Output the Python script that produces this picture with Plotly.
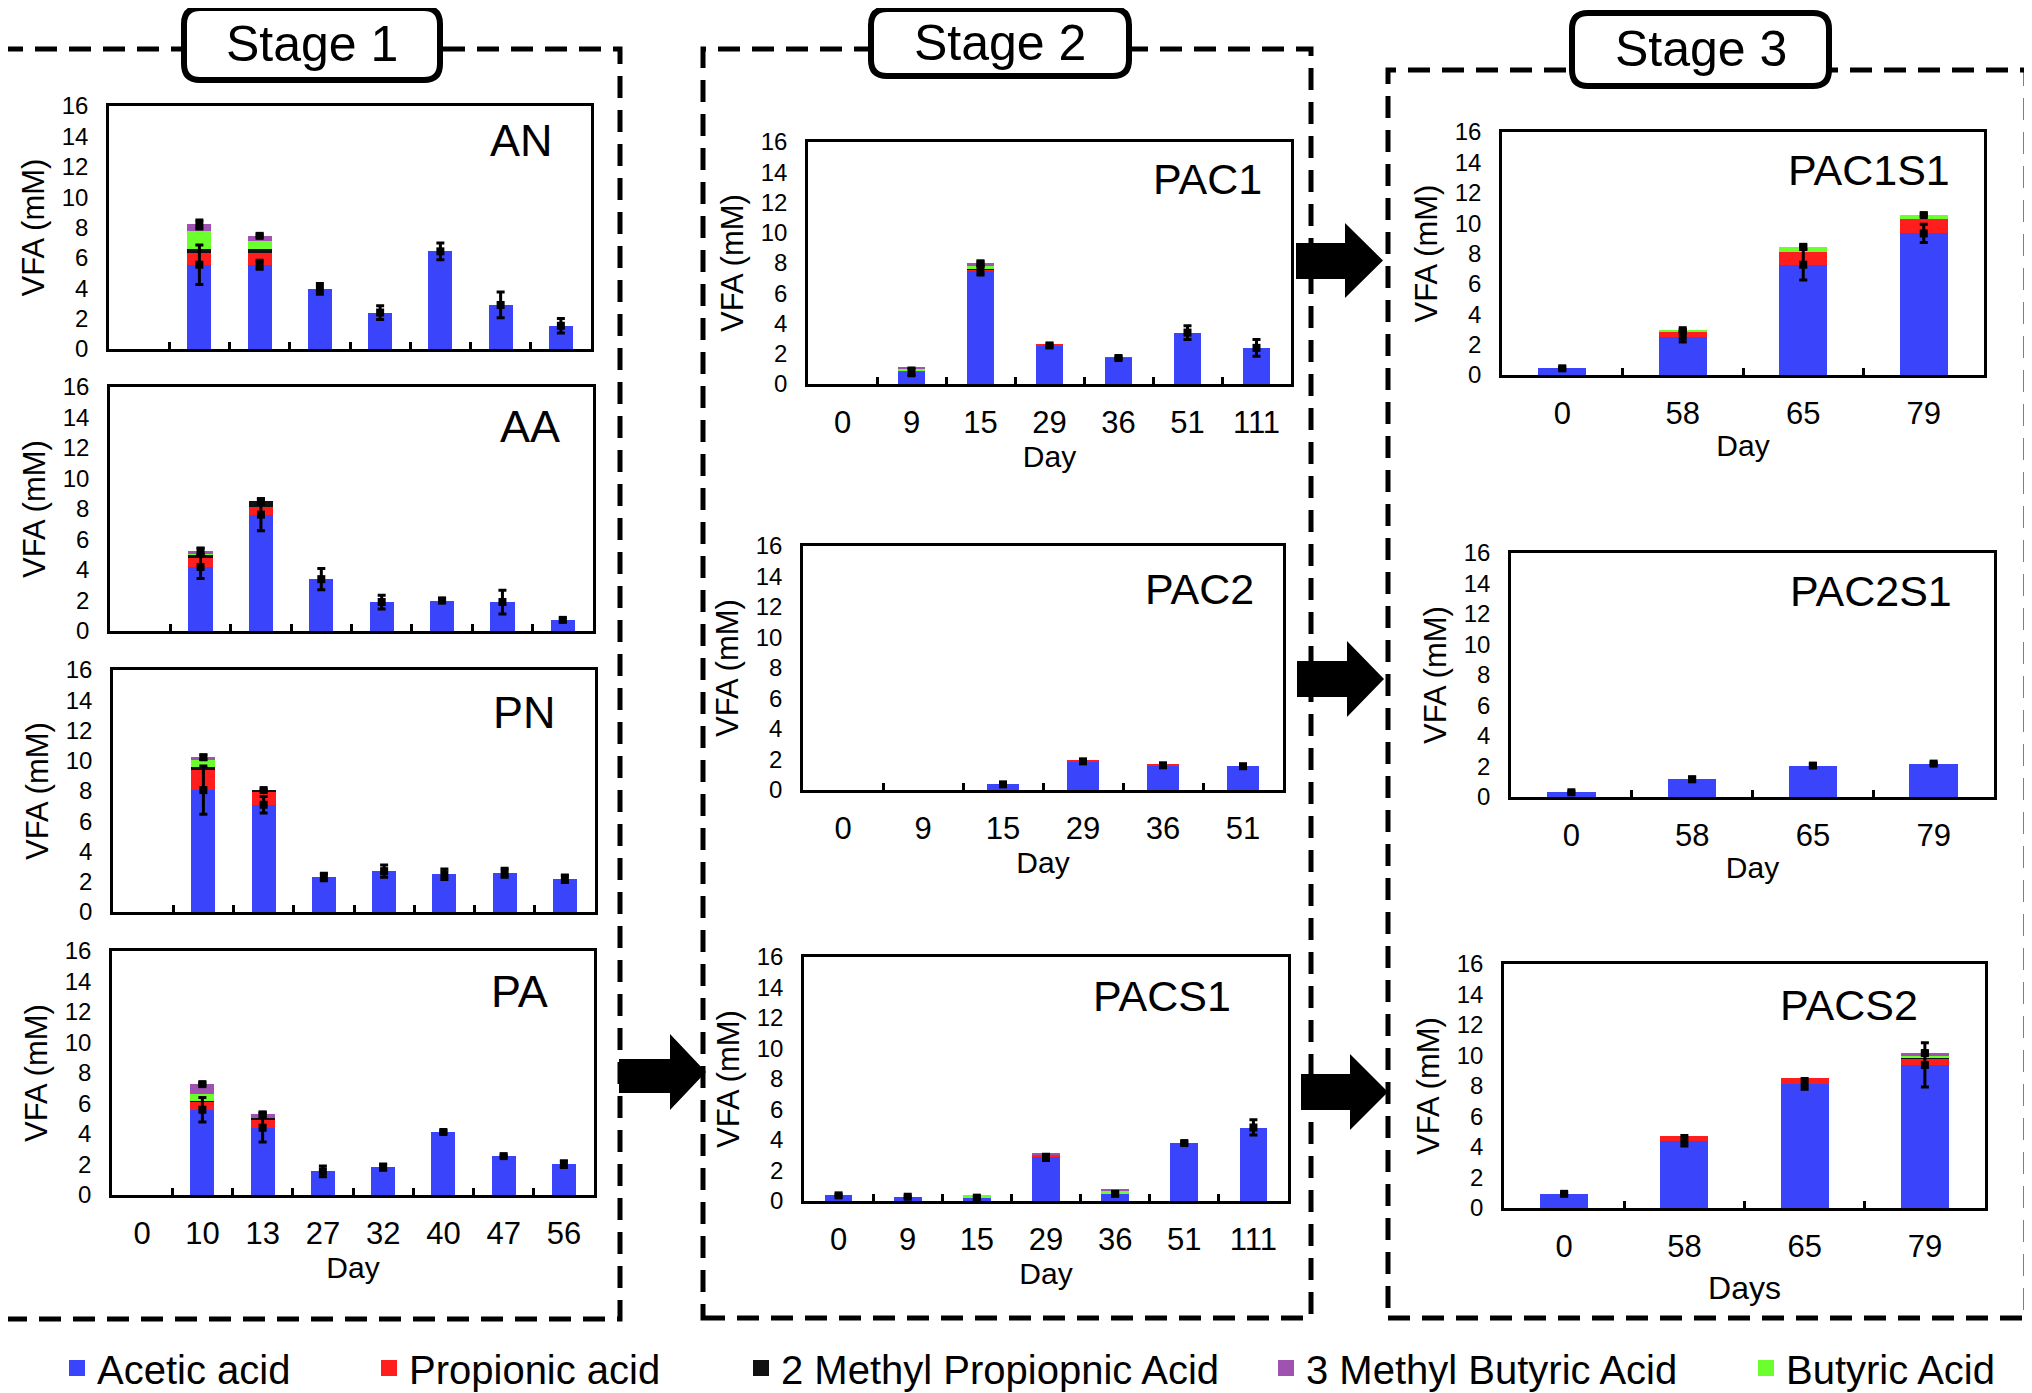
import numpy as np
import plotly.graph_objects as go

# the page body keeps an 8px margin, so every position is pulled back by it
OFF = 8
W, H = 2032, 1393
FONT = "Liberation Sans, Arial, sans-serif"

ACIDS = ["Acetic acid", "Propionic acid", "2 Methyl Propiopnic Acid",
         "3 Methyl Butyric Acid", "Butyric Acid"]
ACID_COLORS = {
    "Acetic acid": "#3a44fb",
    "Propionic acid": "#ff1e1e",
    "2 Methyl Propiopnic Acid": "#111111",
    "3 Methyl Butyric Acid": "#a052b0",
    "Butyric Acid": "#6cff2e",
}
# order the segments are stacked in (bottom -> top)
STACK_ORDER = ["Acetic acid", "Propionic acid", "2 Methyl Propiopnic Acid",
               "Butyric Acid", "3 Methyl Butyric Acid"]

STAGE1_DAYS = ["0", "10", "13", "27", "32", "40", "47", "56"]
STAGE2_DAYS = ["0", "9", "15", "29", "36", "51", "111"]
PAC2_DAYS = ["0", "9", "15", "29", "36", "51"]
STAGE3_DAYS = ["0", "58", "65", "79"]

# ---- Stage 1 ----
AN_ACETIC = [0, 5.55, 5.55, 3.96, 2.40, 6.43, 2.90, 1.53]
AN_PROPIONIC = [0, 0.75, 0.75, 0, 0, 0, 0, 0]
AN_METHYLPROP = [0, 0.30, 0.30, 0, 0, 0, 0, 0]
AN_BUTYRIC = [0, 1.15, 0.50, 0, 0, 0, 0, 0]
AN_METHYLBUT = [0, 0.45, 0.35, 0, 0, 0, 0, 0]
AN_ERR_ACETIC = [0, 1.30, 0.30, 0.35, 0.45, 0.55, 0.85, 0.48]
AN_ERR_TOTAL = [0, 0.30, 0.10, 0, 0, 0, 0, 0]

AA_ACETIC = [0, 4.20, 7.63, 3.40, 1.90, 2.00, 1.90, 0.73]
AA_PROPIONIC = [0, 0.60, 0.53, 0, 0, 0, 0, 0]
AA_METHYLPROP = [0, 0.20, 0.34, 0, 0, 0, 0, 0]
AA_BUTYRIC = [0, 0.05, 0, 0, 0, 0, 0, 0]
AA_METHYLBUT = [0, 0.20, 0, 0, 0, 0, 0, 0]
AA_ERR_ACETIC = [0, 0.75, 1.05, 0.70, 0.45, 0.15, 0.78, 0.10]
AA_ERR_TOTAL = [0, 0.20, 0.15, 0, 0, 0, 0, 0]

PN_ACETIC = [0, 8.06, 7.09, 2.32, 2.70, 2.50, 2.60, 2.20]
PN_PROPIONIC = [0, 1.35, 0.88, 0, 0, 0, 0, 0]
PN_METHYLPROP = [0, 0.20, 0.09, 0, 0, 0, 0, 0]
PN_BUTYRIC = [0, 0.44, 0, 0, 0, 0, 0, 0]
PN_METHYLBUT = [0, 0.18, 0, 0, 0, 0, 0, 0]
PN_ERR_ACETIC = [0, 1.60, 0.55, 0.25, 0.40, 0.35, 0.30, 0.25]
PN_ERR_TOTAL = [0, 0.15, 0.05, 0, 0, 0, 0, 0]

PA_ACETIC = [0, 5.59, 4.41, 1.55, 1.83, 4.13, 2.55, 2.02]
PA_PROPIONIC = [0, 0.53, 0.56, 0, 0, 0, 0, 0]
PA_METHYLPROP = [0, 0.06, 0.05, 0, 0, 0, 0, 0]
PA_BUTYRIC = [0, 0.47, 0, 0, 0, 0, 0, 0]
PA_METHYLBUT = [0, 0.62, 0.26, 0, 0, 0, 0, 0]
PA_ERR_ACETIC = [0, 0.80, 0.93, 0.35, 0.20, 0.10, 0.05, 0.22]
PA_ERR_TOTAL = [0, 0.10, 0.15, 0, 0, 0, 0, 0]

# ---- Stage 2 ----
PAC1_ACETIC = [0, 0.80, 7.50, 2.55, 1.72, 3.40, 2.39]
PAC1_PROPIONIC = [0, 0.05, 0.05, 0.12, 0.06, 0, 0]
PAC1_METHYLPROP = [0, 0, 0.08, 0, 0, 0, 0]
PAC1_BUTYRIC = [0, 0.15, 0.15, 0, 0, 0, 0]
PAC1_METHYLBUT = [0, 0.10, 0.20, 0, 0, 0, 0]
PAC1_ERR_ACETIC = [0, 0.25, 0.30, 0.10, 0.08, 0.45, 0.55]
PAC1_ERR_TOTAL = [0, 0, 0.10, 0, 0, 0, 0]

PAC2_ACETIC = [0, 0, 0.37, 1.88, 1.62, 1.56]
PAC2_PROPIONIC = [0, 0, 0, 0.10, 0.07, 0]
PAC2_METHYLPROP = [0, 0, 0, 0, 0, 0]
PAC2_BUTYRIC = [0, 0, 0, 0, 0, 0]
PAC2_METHYLBUT = [0, 0, 0, 0, 0, 0]
PAC2_ERR_ACETIC = [0, 0, 0.05, 0.12, 0.10, 0.10]
PAC2_ERR_TOTAL = [0, 0, 0, 0, 0, 0]

PACS1_ACETIC = [0.37, 0.28, 0.22, 2.86, 0.47, 3.80, 4.82]
PACS1_PROPIONIC = [0, 0, 0, 0.20, 0, 0, 0]
PACS1_METHYLPROP = [0, 0, 0, 0, 0, 0, 0]
PACS1_BUTYRIC = [0, 0, 0.18, 0, 0.20, 0, 0]
PACS1_METHYLBUT = [0, 0, 0, 0.05, 0.10, 0, 0]
PACS1_ERR_ACETIC = [0.05, 0.05, 0.08, 0.20, 0.10, 0.10, 0.50]
PACS1_ERR_TOTAL = [0, 0, 0, 0, 0, 0, 0]

# ---- Stage 3 ----
PAC1S1_ACETIC = [0.44, 2.53, 7.26, 9.32]
PAC1S1_PROPIONIC = [0, 0.32, 0.86, 0.97]
PAC1S1_METHYLPROP = [0, 0, 0, 0]
PAC1S1_BUTYRIC = [0, 0.10, 0.32, 0.24]
PAC1S1_METHYLBUT = [0, 0, 0, 0]
PAC1S1_ERR_ACETIC = [0.08, 0.35, 1.00, 0.60]
PAC1S1_ERR_TOTAL = [0, 0.05, 0.10, 0.10]

PAC2S1_ACETIC = [0.31, 1.16, 2.06, 2.19]
PAC2S1_PROPIONIC = [0, 0, 0, 0]
PAC2S1_METHYLPROP = [0, 0, 0, 0]
PAC2S1_BUTYRIC = [0, 0, 0, 0]
PAC2S1_METHYLBUT = [0, 0, 0, 0]
PAC2S1_ERR_ACETIC = [0.05, 0.15, 0.10, 0.08]
PAC2S1_ERR_TOTAL = [0, 0, 0, 0]

PACS2_ACETIC = [0.93, 4.41, 8.14, 9.38]
PACS2_PROPIONIC = [0, 0.30, 0.40, 0.40]
PACS2_METHYLPROP = [0, 0, 0, 0.03]
PACS2_BUTYRIC = [0, 0, 0, 0.18]
PACS2_METHYLBUT = [0, 0, 0, 0.17]
PACS2_ERR_ACETIC = [0.08, 0.35, 0.35, 1.45]
PACS2_ERR_TOTAL = [0, 0, 0, 0.10]

# name, days, stacks (stack order), acetic error, top error
PANELS = [
    ("AN", STAGE1_DAYS, [AN_ACETIC, AN_PROPIONIC, AN_METHYLPROP, AN_BUTYRIC, AN_METHYLBUT], AN_ERR_ACETIC, AN_ERR_TOTAL),
    ("AA", STAGE1_DAYS, [AA_ACETIC, AA_PROPIONIC, AA_METHYLPROP, AA_BUTYRIC, AA_METHYLBUT], AA_ERR_ACETIC, AA_ERR_TOTAL),
    ("PN", STAGE1_DAYS, [PN_ACETIC, PN_PROPIONIC, PN_METHYLPROP, PN_BUTYRIC, PN_METHYLBUT], PN_ERR_ACETIC, PN_ERR_TOTAL),
    ("PA", STAGE1_DAYS, [PA_ACETIC, PA_PROPIONIC, PA_METHYLPROP, PA_BUTYRIC, PA_METHYLBUT], PA_ERR_ACETIC, PA_ERR_TOTAL),
    ("PAC1", STAGE2_DAYS, [PAC1_ACETIC, PAC1_PROPIONIC, PAC1_METHYLPROP, PAC1_BUTYRIC, PAC1_METHYLBUT], PAC1_ERR_ACETIC, PAC1_ERR_TOTAL),
    ("PAC2", PAC2_DAYS, [PAC2_ACETIC, PAC2_PROPIONIC, PAC2_METHYLPROP, PAC2_BUTYRIC, PAC2_METHYLBUT], PAC2_ERR_ACETIC, PAC2_ERR_TOTAL),
    ("PACS1", STAGE2_DAYS, [PACS1_ACETIC, PACS1_PROPIONIC, PACS1_METHYLPROP, PACS1_BUTYRIC, PACS1_METHYLBUT], PACS1_ERR_ACETIC, PACS1_ERR_TOTAL),
    ("PAC1S1", STAGE3_DAYS, [PAC1S1_ACETIC, PAC1S1_PROPIONIC, PAC1S1_METHYLPROP, PAC1S1_BUTYRIC, PAC1S1_METHYLBUT], PAC1S1_ERR_ACETIC, PAC1S1_ERR_TOTAL),
    ("PAC2S1", STAGE3_DAYS, [PAC2S1_ACETIC, PAC2S1_PROPIONIC, PAC2S1_METHYLPROP, PAC2S1_BUTYRIC, PAC2S1_METHYLBUT], PAC2S1_ERR_ACETIC, PAC2S1_ERR_TOTAL),
    ("PACS2", STAGE3_DAYS, [PACS2_ACETIC, PACS2_PROPIONIC, PACS2_METHYLPROP, PACS2_BUTYRIC, PACS2_METHYLBUT], PACS2_ERR_ACETIC, PACS2_ERR_TOTAL),
]

# pixel placement in the window: plot box (x0, x1, y0, y1),
# label (right edge, centre y, size), x title, title standoff, title size
BOXES = {
    "AN": ((109, 591, 106, 349), (555, 141, 45), None, 6, 30),
    "AA": ((110, 593, 387, 631), (562, 426, 45), None, 6, 30),
    "PN": ((113, 595, 670, 912), (558, 712, 45), None, 6, 30),
    "PA": ((112, 594, 951, 1195), (550, 991, 45), "Day", 6, 30),
    "PAC1": ((808, 1291, 142, 384), (1264, 179, 43), "Day", 6, 30),
    "PAC2": ((803, 1283, 546, 790), (1256, 589, 43), "Day", 6, 30),
    "PACS1": ((804, 1288, 957, 1201), (1233, 996, 43), "Day", 6, 30),
    "PAC1S1": ((1502, 1984, 132, 375), (1952, 170, 43), "Day", 6, 30),
    "PAC2S1": ((1511, 1994, 553, 797), (1954, 591, 43), "Day", 6, 30),
    "PACS2": ((1504, 1985, 964, 1208), (1920, 1005, 43), "Days", 14, 32),
}


def px(x, y):
    return (x - OFF) / W, 1 - (y - OFF) / H


fig = go.Figure()
layout = {}

for i, (name, days, stacks, err_ac, err_top) in enumerate(PANELS, start=1):
    sfx = "" if i == 1 else str(i)
    xref, yref = "x" + sfx, "y" + sfx
    (x0, x1, y0, y1), _, xtitle, tstand, tsize = BOXES[name]

    for acid, vals in zip(STACK_ORDER, stacks):
        fig.add_trace(go.Bar(
            x=days, y=vals, xaxis=xref, yaxis=yref, name=acid,
            marker=dict(color=ACID_COLORS[acid], line=dict(width=0)),
            showlegend=False,
        ))

    acetic = np.array(stacks[0], dtype=float)
    total = np.sum(np.array(stacks, dtype=float), axis=0)
    for centre, err in ((acetic, err_ac), (total, err_top)):
        ys = [c if e > 0 else None for c, e in zip(centre, err)]
        fig.add_trace(go.Scatter(
            x=days, y=ys, xaxis=xref, yaxis=yref, mode="markers",
            marker=dict(symbol="square", size=8, color="black"),
            error_y=dict(type="data", array=err, color="black",
                         thickness=3, width=4),
            showlegend=False, hoverinfo="skip",
        ))

    dx0, dy1 = px(x0, y1)
    dx1, dy0 = px(x1, y0)
    layout["xaxis" + sfx] = dict(
        domain=[dx0, dx1], anchor=yref, type="category",
        categoryorder="array", categoryarray=days,
        range=[-0.5, len(days) - 0.5],
        showline=True, mirror=True, linecolor="black", linewidth=2.5,
        ticks="inside", tickson="boundaries", ticklen=7, tickwidth=2.5,
        tickcolor="black", showgrid=False, zeroline=False,
        showticklabels=xtitle is not None, ticklabelstandoff=9,
        tickfont=dict(size=31, color="black", family=FONT),
        title=dict(text=xtitle or "", standoff=tstand,
                   font=dict(size=tsize, color="black", family=FONT)),
        automargin=False, fixedrange=True,
    )
    layout["yaxis" + sfx] = dict(
        domain=[dy1, dy0], anchor=xref,
        range=[0, 16], tick0=0, dtick=2,
        showline=True, mirror=True, linecolor="black", linewidth=2.5,
        ticks="", showgrid=False, zeroline=False, ticklabelstandoff=13,
        tickfont=dict(size=24, color="black", family=FONT),
        title=dict(text="VFA (mM)", standoff=8,
                   font=dict(size=31, color="black", family=FONT)),
        automargin=False, fixedrange=True,
    )

annotations = []
for name, _, _, _, _ in PANELS:
    _, (lx, ly, lsize), _, _, _ = BOXES[name]
    ax, ay = px(lx, ly)
    annotations.append(dict(
        text=name, x=ax, y=ay, xref="paper", yref="paper",
        xanchor="right", yanchor="middle", showarrow=False,
        font=dict(size=lsize, color="black", family=FONT),
    ))

shapes = []
# dashed stage boxes
for bx0, by0, bx1, by1 in [(5, 49, 620, 1319), (703, 49, 1311, 1318),
                           (1388, 70, 2026, 1318)]:
    (a, b), (c, d) = px(bx0, by0), px(bx1, by1)
    shapes.append(dict(type="rect", xref="paper", yref="paper",
                       x0=a, y0=d, x1=c, y1=b,
                       line=dict(color="black", width=5, dash="22px,12px")))


def rounded_rect(x0, y0, x1, y1, r):
    def P(x, y):
        u, v = px(x, y)
        return f"{u:.5f},{v:.5f}"

    return " ".join([
        f"M{P(x0 + r, y0)}", f"L{P(x1 - r, y0)}",
        f"Q{P(x1, y0)} {P(x1, y0 + r)}", f"L{P(x1, y1 - r)}",
        f"Q{P(x1, y1)} {P(x1 - r, y1)}", f"L{P(x0 + r, y1)}",
        f"Q{P(x0, y1)} {P(x0, y1 - r)}", f"L{P(x0, y0 + r)}",
        f"Q{P(x0, y0)} {P(x0 + r, y0)}Z",
    ])


STAGE_LABELS = [("Stage 1", (184, 8, 440, 80)),
                ("Stage 2", (871, 9, 1129, 76)),
                ("Stage 3", (1572, 13, 1829, 86))]
for text, (sx0, sy0, sx1, sy1) in STAGE_LABELS:
    shapes.append(dict(type="path", xref="paper", yref="paper",
                       path=rounded_rect(sx0, sy0, sx1, sy1, 16),
                       fillcolor="white", line=dict(color="black", width=6)))
    cx, cy = px((sx0 + sx1) / 2, (sy0 + sy1) / 2)
    annotations.append(dict(
        text=text, x=cx, y=cy, xref="paper", yref="paper",
        xanchor="center", yanchor="middle", showarrow=False,
        font=dict(size=50, color="black", family=FONT),
    ))


def arrow(x0, xh, x1, ytop, ybot, s0, s1):
    ym = (ytop + ybot) / 2
    pts = [(x0, s0), (xh, s0), (xh, ytop), (x1, ym), (xh, ybot), (xh, s1), (x0, s1)]
    coords = [px(x, y) for x, y in pts]
    return "M" + " L".join(f"{u:.5f},{v:.5f}" for u, v in coords) + " Z"


for ax0, axh, ax1, ayt, ayb, as0, as1 in [
    (619, 670, 706, 1034, 1110, 1059, 1093),
    (1296, 1345, 1383, 223, 298, 243, 279),
    (1297, 1347, 1384, 641, 717, 661, 697),
    (1301, 1350, 1388, 1054, 1130, 1074, 1110),
]:
    shapes.append(dict(type="path", xref="paper", yref="paper",
                       path=arrow(ax0, axh, ax1, ayt, ayb, as0, as1),
                       fillcolor="black", line=dict(color="black", width=0)))

# legend: one legend per entry so each sits where the original has it
LEGEND_X = {"Acetic acid": 57, "Propionic acid": 369,
            "2 Methyl Propiopnic Acid": 741, "3 Methyl Butyric Acid": 1266,
            "Butyric Acid": 1746}
for k, acid in enumerate(ACIDS, start=1):
    lname = "legend" if k == 1 else f"legend{k}"
    fig.add_trace(go.Scatter(
        x=[None], y=[None], mode="markers", name=acid, legend=lname,
        marker=dict(symbol="square", size=20, color=ACID_COLORS[acid]),
        showlegend=True,
    ))
    lx, ly = px(LEGEND_X[acid], 1368)
    layout[lname] = dict(
        x=lx, y=ly, xanchor="left", yanchor="middle", orientation="h",
        bgcolor="rgba(0,0,0,0)", borderwidth=0, itemsizing="trace",
        font=dict(size=40, color="black", family=FONT),
    )

fig.update_layout(
    template="none",
    width=W, height=H,
    margin=dict(l=0, r=0, t=0, b=0),
    paper_bgcolor="white", plot_bgcolor="white",
    barmode="stack", bargap=0.6,
    font=dict(family=FONT, color="black"),
    annotations=annotations, shapes=shapes,
    **layout,
)

fig.write_html("out.html")
